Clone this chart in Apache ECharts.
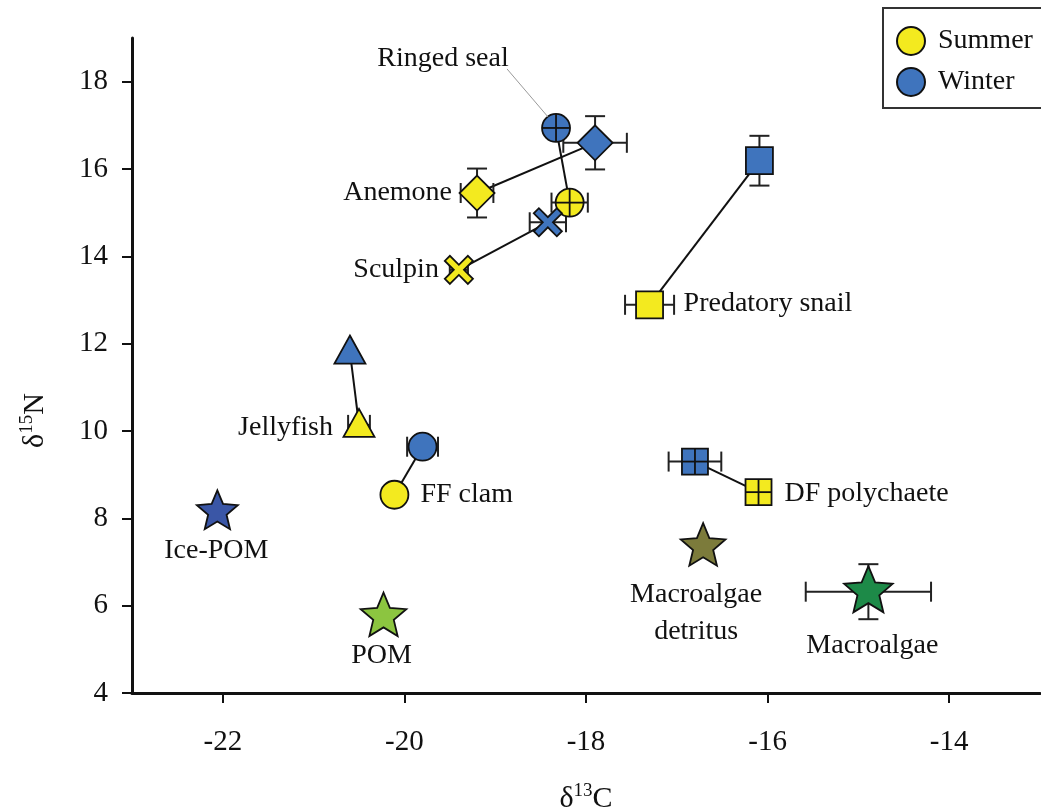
<!DOCTYPE html>
<html>
<head>
<meta charset="utf-8">
<script src="https://cdn.jsdelivr.net/npm/echarts@6/dist/echarts.min.js"></script>
<style>
  html, body { margin: 0; padding: 0; background: #fff; }
  #chart { width: 1041px; height: 812px; }
</style>
</head>
<body>
<div id="chart"></div>
<script>
// Consumers: summer and winter means of δ13C / δ15N (‰) with their SDs
const taxa = ['Ringed seal', 'Anemone', 'Sculpin', 'Predatory snail', 'Jellyfish', 'FF clam', 'DF polychaete'];
const summerC = [-18.18, -19.20, -19.40, -17.30, -20.50, -20.11, -16.10];
const summerN = [15.23, 15.45, 13.69, 12.89, 10.14, 8.54, 8.60];
const summerCErr = [0.20, 0.18, 0.10, 0.27, 0.12, 0, 0];
const summerNErr = [0, 0.56, 0.10, 0, 0, 0, 0];
const winterC = [-18.33, -17.90, -18.42, -16.09, -20.60, -19.80, -16.80];
const winterN = [16.94, 16.60, 14.78, 16.19, 11.82, 9.64, 9.30];
const winterCErr = [0.10, 0.35, 0.20, 0, 0, 0.17, 0.29];
const winterNErr = [0.10, 0.61, 0, 0.57, 0, 0, 0];

// Primary food sources
const sources = ['Ice-POM', 'POM', 'Macroalgae\ndetritus', 'Macroalgae'];
const sourceC = [-22.06, -20.23, -16.71, -14.89];
const sourceN = [8.15, 5.75, 7.35, 6.32];
const sourceCErr = [0, 0, 0, 0.69];
const sourceNErr = [0, 0, 0, 0.63];

// Axis ticks
const xTicks = [-22, -20, -18, -16, -14];
const yTicks = [4, 6, 8, 10, 12, 14, 16, 18];

// ---- styling ----
const FONT = "'Liberation Serif', 'Times New Roman', serif";
const INK = '#111';
const SUMMER = '#f3ea1f';
const WINTER = '#3f74bd';
const taxonShape = ['circleCross', 'diamond', 'cross', 'square', 'triangle', 'circle', 'squareCross'];
const sourceColor = ['#3a56a6', '#8cc540', '#7c7b3b', '#1d8a48'];
const sourceStarR = [21.5, 24, 23.5, 25.5];
// label anchors: season point used, offset and alignment
const taxonLabel = [
  { at: 'w', dx: -113, dy: -69, align: 'center', leader: [-49, -59, -8, -11] },
  { at: 's', dx: -25, dy: 0, align: 'right' },
  { at: 's', dx: -20, dy: 0, align: 'right' },
  { at: 's', dx: 34, dy: -1, align: 'left' },
  { at: 's', dx: -26, dy: 3, align: 'right' },
  { at: 's', dx: 26, dy: 0, align: 'left' },
  { at: 's', dx: 26, dy: 2, align: 'left' }
];
const sourceLabel = [
  { dx: -1, dy: 39 },
  { dx: -2, dy: 39 },
  { dx: -7, dy: 66 },
  { dx: 4, dy: 54 }
];

const edge = { stroke: INK, lineWidth: 1.8 };

function starPoints(cx, cy, R, ratio) {
  const pts = [];
  for (let k = 0; k < 10; k++) {
    const a = -Math.PI / 2 + k * Math.PI / 5;
    const r = k % 2 === 0 ? R : R * ratio;
    pts.push([cx + r * Math.cos(a), cy + r * Math.sin(a)]);
  }
  return pts;
}

function crossPoints(cx, cy, a, t) {
  const base = [[t, a], [t, t], [a, t], [a, -t], [t, -t], [t, -a], [-t, -a], [-t, -t], [-a, -t], [-a, t], [-t, t], [-t, a]];
  const c = Math.SQRT1_2;
  return base.map(([x, y]) => [cx + (x - y) * c, cy + (x + y) * c]);
}

function marker(shape, p, fill) {
  const [x, y] = p;
  const st = Object.assign({ fill: fill }, edge);
  const ln = { stroke: INK, lineWidth: 1.8 };
  switch (shape) {
    case 'circle':
      return [{ type: 'circle', shape: { cx: x, cy: y, r: 14 }, style: st }];
    case 'circleCross':
      return [
        { type: 'circle', shape: { cx: x, cy: y, r: 14 }, style: st },
        { type: 'line', shape: { x1: x - 14, y1: y, x2: x + 14, y2: y }, style: ln },
        { type: 'line', shape: { x1: x, y1: y - 14, x2: x, y2: y + 14 }, style: ln }
      ];
    case 'diamond':
      return [{ type: 'polygon', shape: { points: [[x, y - 17.5], [x + 17.5, y], [x, y + 17.5], [x - 17.5, y]] }, style: st }];
    case 'square':
      return [{ type: 'rect', shape: { x: x - 13.5, y: y - 13.5, width: 27, height: 27 }, style: st }];
    case 'squareCross':
      return [
        { type: 'rect', shape: { x: x - 13, y: y - 13, width: 26, height: 26 }, style: st },
        { type: 'line', shape: { x1: x - 13, y1: y, x2: x + 13, y2: y }, style: ln },
        { type: 'line', shape: { x1: x, y1: y - 13, x2: x, y2: y + 13 }, style: ln }
      ];
    case 'triangle':
      return [{ type: 'polygon', shape: { points: [[x, y - 16], [x + 15.5, y + 12], [x - 15.5, y + 12]] }, style: st }];
    case 'cross':
      return [{ type: 'polygon', shape: { points: crossPoints(x, y, 16.3, 3.6) }, style: st }];
  }
  return [];
}

function errorBars(api, c, n, ce, ne) {
  const els = [];
  const bar = { stroke: '#222', lineWidth: 2 };
  const cap = 10;
  if (ce > 0) {
    const a = api.coord([c - ce, n]);
    const b = api.coord([c + ce, n]);
    els.push({ type: 'line', shape: { x1: a[0], y1: a[1], x2: b[0], y2: b[1] }, style: bar });
    els.push({ type: 'line', shape: { x1: a[0], y1: a[1] - cap, x2: a[0], y2: a[1] + cap }, style: bar });
    els.push({ type: 'line', shape: { x1: b[0], y1: b[1] - cap, x2: b[0], y2: b[1] + cap }, style: bar });
  }
  if (ne > 0) {
    const a = api.coord([c, n - ne]);
    const b = api.coord([c, n + ne]);
    els.push({ type: 'line', shape: { x1: a[0], y1: a[1], x2: b[0], y2: b[1] }, style: bar });
    els.push({ type: 'line', shape: { x1: a[0] - cap, y1: a[1], x2: a[0] + cap, y2: a[1] }, style: bar });
    els.push({ type: 'line', shape: { x1: b[0] - cap, y1: b[1], x2: b[0] + cap, y2: b[1] }, style: bar });
  }
  return els;
}

const textStyle = (text, align) => ({
  text: text, fontFamily: FONT, fontSize: 28, fill: INK,
  align: align, verticalAlign: 'middle', lineHeight: 37
});

// data tables built from the arrays above
const linkData = taxa.map((t, i) => [summerC[i], summerN[i], winterC[i], winterN[i]]);
const errData = []
  .concat(taxa.map((t, i) => [summerC[i], summerN[i], summerCErr[i], summerNErr[i]]))
  .concat(taxa.map((t, i) => [winterC[i], winterN[i], winterCErr[i], winterNErr[i]]))
  .concat(sources.map((t, i) => [sourceC[i], sourceN[i], sourceCErr[i], sourceNErr[i]]));
const summerData = taxa.map((t, i) => [summerC[i], summerN[i], i]);
const winterData = taxa.map((t, i) => [winterC[i], winterN[i], i]);
const sourceData = sources.map((t, i) => [sourceC[i], sourceN[i], i]);

const chart = echarts.init(document.getElementById('chart'), null, { renderer: 'canvas' });

const axisCommon = {
  type: 'value',
  axisLine: { show: true, onZero: false, lineStyle: { color: INK, width: 3 } },
  axisTick: { show: true, length: 10, lineStyle: { color: INK, width: 2 } },
  splitLine: { show: false },
  nameLocation: 'middle'
};

const nameRich = {
  d: { fontFamily: FONT, fontSize: 30, color: INK, lineHeight: 34 },
  s: { fontFamily: FONT, fontSize: 19, color: INK, verticalAlign: 'top', lineHeight: 34 }
};

chart.setOption({
  animation: false,
  backgroundColor: '#fff',
  grid: { left: 132, right: 1, top: 38, bottom: 119, containLabel: false, outerBoundsMode: 'none' },
  legend: {
    data: ['Summer', 'Winter'],
    orient: 'vertical',
    left: 883, top: 8,
    padding: [18, 60, 11, 13],
    itemWidth: 28, itemHeight: 28, itemGap: 11,
    icon: 'circle',
    selectedMode: false,
    borderColor: '#333', borderWidth: 2,
    textStyle: { fontFamily: FONT, fontSize: 28, color: INK, padding: [0, 0, 0, 8] }
  },
  xAxis: Object.assign({}, axisCommon, {
    min: -23, max: -13,
    axisTick: Object.assign({}, axisCommon.axisTick, { customValues: xTicks }),
    axisLabel: { customValues: xTicks, margin: 35, fontFamily: FONT, fontSize: 29, color: INK },
    name: '{d|δ}{s|13}{d|C}',
    nameGap: 89,
    nameTextStyle: { rich: nameRich }
  }),
  yAxis: Object.assign({}, axisCommon, {
    min: 4, max: 19,
    axisTick: Object.assign({}, axisCommon.axisTick, { customValues: yTicks }),
    axisLabel: { customValues: yTicks, margin: 24, fontFamily: FONT, fontSize: 29, color: INK },
    name: '{d|δ}{s|15}{d|N}',
    nameGap: 80,
    nameTextStyle: { rich: nameRich, padding: [0, 110, 0, 0] }
  }),
  series: [
    { name: 'Summer', type: 'scatter', data: [], itemStyle: { color: SUMMER, opacity: 1, borderColor: INK, borderWidth: 1.8 } },
    { name: 'Winter', type: 'scatter', data: [], itemStyle: { color: WINTER, opacity: 1, borderColor: INK, borderWidth: 1.8 } },
    {
      type: 'custom', z: 1, silent: true, data: linkData, encode: { x: 0, y: 1 },
      renderItem: (params, api) => {
        const a = api.coord([api.value(0), api.value(1)]);
        const b = api.coord([api.value(2), api.value(3)]);
        return { type: 'line', shape: { x1: a[0], y1: a[1], x2: b[0], y2: b[1] }, style: { stroke: INK, lineWidth: 2 } };
      }
    },
    {
      type: 'custom', z: 2, silent: true, data: errData, encode: { x: 0, y: 1 },
      renderItem: (params, api) => ({
        type: 'group',
        children: errorBars(api, api.value(0), api.value(1), api.value(2), api.value(3))
      })
    },
    {
      type: 'custom', z: 3, silent: true, data: summerData, encode: { x: 0, y: 1 },
      renderItem: (params, api) => ({
        type: 'group',
        children: marker(taxonShape[api.value(2)], api.coord([api.value(0), api.value(1)]), SUMMER)
      })
    },
    {
      type: 'custom', z: 3, silent: true, data: winterData, encode: { x: 0, y: 1 },
      renderItem: (params, api) => ({
        type: 'group',
        children: marker(taxonShape[api.value(2)], api.coord([api.value(0), api.value(1)]), WINTER)
      })
    },
    {
      type: 'custom', z: 3, silent: true, data: sourceData, encode: { x: 0, y: 1 },
      renderItem: (params, api) => {
        const i = api.value(2);
        const p = api.coord([api.value(0), api.value(1)]);
        return {
          type: 'polygon',
          shape: { points: starPoints(p[0], p[1], sourceStarR[i], 0.45) },
          style: Object.assign({ fill: sourceColor[i] }, edge)
        };
      }
    },
    {
      // taxon names
      type: 'custom', z: 4, silent: true, data: summerData, encode: { x: 0, y: 1 },
      renderItem: (params, api) => {
        const i = api.value(2);
        const L = taxonLabel[i];
        const p = L.at === 'w' ? api.coord([winterC[i], winterN[i]]) : api.coord([api.value(0), api.value(1)]);
        const kids = [{ type: 'text', x: p[0] + L.dx, y: p[1] + L.dy, style: textStyle(taxa[i], L.align) }];
        if (L.leader) {
          kids.unshift({
            type: 'line',
            shape: { x1: p[0] + L.leader[0], y1: p[1] + L.leader[1], x2: p[0] + L.leader[2], y2: p[1] + L.leader[3] },
            style: { stroke: '#9a9a9a', lineWidth: 1 }
          });
        }
        return { type: 'group', children: kids };
      }
    },
    {
      // source names
      type: 'custom', z: 4, silent: true, data: sourceData, encode: { x: 0, y: 1 },
      renderItem: (params, api) => {
        const i = api.value(2);
        const p = api.coord([api.value(0), api.value(1)]);
        const L = sourceLabel[i];
        return { type: 'text', x: p[0] + L.dx, y: p[1] + L.dy, style: textStyle(sources[i], 'center') };
      }
    }
  ]
});
</script>
</body>
</html>
